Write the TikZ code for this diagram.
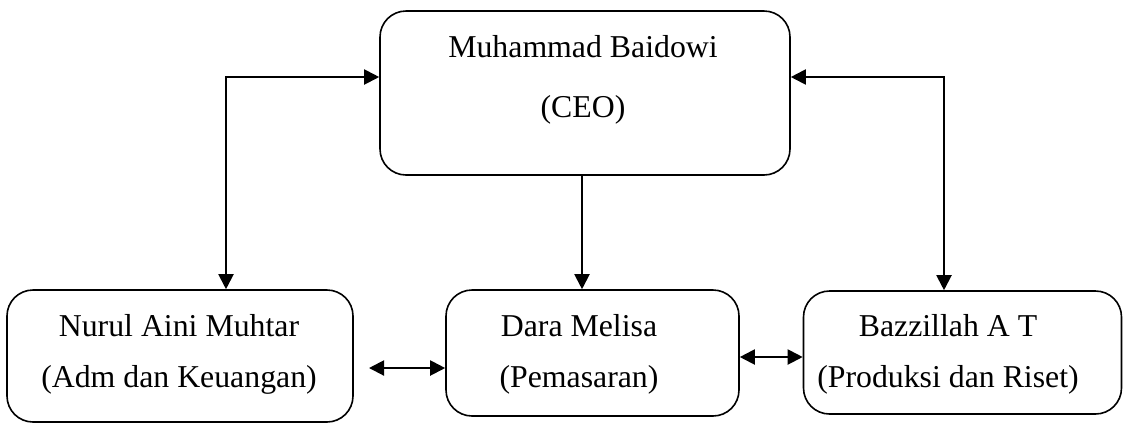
\documentclass[tikz,border=0pt]{standalone}
\usepackage{fontspec}
\setmainfont{Liberation Serif}
\usetikzlibrary{arrows.meta,positioning}

\begin{document}
\begin{tikzpicture}[x=0.5pt, y=-0.5pt,
    kotak/.style={draw, rounded corners=13pt, line width=0.8pt, inner sep=0pt},
    teks/.style={anchor=base, inner sep=0pt, font=\fontsize{15.9pt}{19pt}\selectfont},
    panah/.style={line width=1pt, {Triangle[length=7.5pt,width=7.5pt]}-{Triangle[length=7.5pt,width=7.5pt]}},
    bajar/.style={line width=1pt, -{Triangle[length=7.5pt,width=7.5pt]}}]
            \useasboundingbox (0,0) rectangle (1124,425);

            % Cajas
            \node[kotak, minimum width=205pt, minimum height=82pt] (ceo) at (585,93) {};
            \node[kotak, minimum width=173pt, minimum height=66pt] (nurul) at (180,356) {};
            \node[kotak, minimum width=146.5pt, minimum height=63pt] (dara) at (592.5,353) {};
            \node[kotak, minimum width=159pt, minimum height=61.5pt] (bazz) at (962.5,352.5) {};

            % Textos
            \node[teks] (ceo1) at (583,57) {Muhammad Baidowi};
            \node[teks] (ceo2) at (583,117) {(CEO)};
            \node[teks] (nurul1) at (179,336) {Nurul Aini Muhtar};
            \node[teks] (nurul2) at (179,387) {(Adm dan Keuangan)};
            \node[teks] (dara1) at (579,336) {Dara Melisa};
            \node[teks] (dara2) at (579,387) {(Pemasaran)};
            \node[teks] (bazz1) at (948,336) {Bazzillah A T};
            \node[teks] (bazz2) at (948,387) {(Produksi dan Riset)};

            % Flechas
            \coordinate (kiri) at (226,77);
            \coordinate (kanan) at (944,77);
            \coordinate (tengah) at (369,368);
            \draw[panah] (kiri -| ceo.west) -- (kiri) -- (kiri |- nurul.north);
            \draw[panah] (kanan -| ceo.east) -- (kanan) -- (kanan |- bazz.north);
            \draw[bajar] ([xshift=-1.5pt]ceo.south) -- ([xshift=-1.5pt]ceo.south |- dara.north);
            \draw[panah] (tengah) -- (tengah -| dara.west);
            \draw[panah] (dara.east |- 0,357) -- (bazz.west |- 0,357);
        \end{tikzpicture}
\end{document}
